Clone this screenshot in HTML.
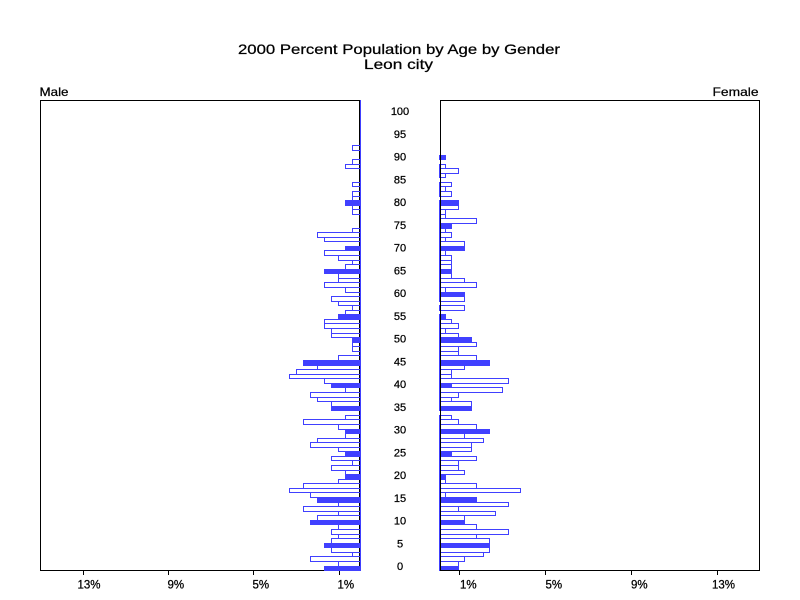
<!DOCTYPE html>
<html><head><meta charset="utf-8"><style>
html,body{margin:0;padding:0;background:#fff;}
svg{display:block;}
text{font-family:"Liberation Sans",Arial,sans-serif;fill:#000;stroke:#000;stroke-width:0.25;}
.o{fill:none;stroke:#4040ff;stroke-width:1;}
.f{fill:#4040ff;stroke:#4040ff;stroke-width:1;}
.k{stroke:#000;stroke-width:1;fill:none;}
.a{font-size:11px;text-anchor:middle;}
.t{font-size:11.5px;}
</style></head><body>
<svg width="800" height="600" viewBox="0 0 800 600" xmlns="http://www.w3.org/2000/svg" shape-rendering="crispEdges">
<rect x="0" y="0" width="800" height="600" fill="#fff"/>
<text x="238" y="54" font-size="14" textLength="322" lengthAdjust="spacingAndGlyphs">2000 Percent Population by Age by Gender</text>
<text x="364" y="69" font-size="14" textLength="69" lengthAdjust="spacingAndGlyphs">Leon city</text>
<text x="39.5" y="96" font-size="12" textLength="29" lengthAdjust="spacingAndGlyphs">Male</text>
<text x="758.5" y="96" font-size="12" text-anchor="end" textLength="46" lengthAdjust="spacingAndGlyphs">Female</text>

<!-- left frame -->
<rect class="k" x="40.5" y="100.5" width="319" height="470"/>
<line class="k" x1="83.5" y1="570" x2="83.5" y2="575"/>
<line class="k" x1="168.5" y1="570" x2="168.5" y2="575"/>
<line class="k" x1="253.5" y1="570" x2="253.5" y2="575"/>
<line class="k" x1="339.5" y1="570" x2="339.5" y2="575"/>

<!-- left bars -->
<g>
<rect class="f" x="324.5" y="566.5" width="36" height="4"/>
<rect class="o" x="338.5" y="561.5" width="22" height="5"/>
<rect class="o" x="310.5" y="556.5" width="50" height="5"/>
<rect class="o" x="352.5" y="552.5" width="8" height="4"/>
<rect class="o" x="331.5" y="547.5" width="29" height="5"/>
<rect class="f" x="324.5" y="543.5" width="36" height="4"/>
<rect class="o" x="331.5" y="538.5" width="29" height="5"/>
<rect class="o" x="338.5" y="534.5" width="22" height="4"/>
<rect class="o" x="331.5" y="529.5" width="29" height="5"/>
<rect class="o" x="338.5" y="524.5" width="22" height="5"/>
<rect class="f" x="310.5" y="520.5" width="50" height="4"/>
<rect class="o" x="317.5" y="515.5" width="43" height="5"/>
<rect class="o" x="338.5" y="511.5" width="22" height="4"/>
<rect class="o" x="303.5" y="506.5" width="57" height="5"/>
<rect class="o" x="338.5" y="502.5" width="22" height="4"/>
<rect class="f" x="317.5" y="497.5" width="43" height="5"/>
<rect class="o" x="310.5" y="492.5" width="50" height="5"/>
<rect class="o" x="289.5" y="488.5" width="71" height="4"/>
<rect class="o" x="303.5" y="483.5" width="57" height="5"/>
<rect class="o" x="338.5" y="479.5" width="22" height="4"/>
<rect class="f" x="345.5" y="474.5" width="15" height="5"/>
<rect class="o" x="345.5" y="470.5" width="15" height="4"/>
<rect class="o" x="331.5" y="465.5" width="29" height="5"/>
<rect class="o" x="352.5" y="460.5" width="8" height="5"/>
<rect class="o" x="331.5" y="456.5" width="29" height="4"/>
<rect class="f" x="345.5" y="451.5" width="15" height="5"/>
<rect class="o" x="338.5" y="447.5" width="22" height="4"/>
<rect class="o" x="310.5" y="442.5" width="50" height="5"/>
<rect class="o" x="317.5" y="438.5" width="43" height="4"/>
<rect class="o" x="345.5" y="433.5" width="15" height="5"/>
<rect class="f" x="345.5" y="429.5" width="15" height="4"/>
<rect class="o" x="338.5" y="424.5" width="22" height="5"/>
<rect class="o" x="303.5" y="419.5" width="57" height="5"/>
<rect class="o" x="345.5" y="415.5" width="15" height="4"/>
<rect class="f" x="331.5" y="406.5" width="29" height="4"/>
<rect class="o" x="331.5" y="401.5" width="29" height="5"/>
<rect class="o" x="317.5" y="397.5" width="43" height="4"/>
<rect class="o" x="310.5" y="392.5" width="50" height="5"/>
<rect class="o" x="345.5" y="387.5" width="15" height="5"/>
<rect class="f" x="331.5" y="383.5" width="29" height="4"/>
<rect class="o" x="324.5" y="378.5" width="36" height="5"/>
<rect class="o" x="289.5" y="374.5" width="71" height="4"/>
<rect class="o" x="296.5" y="369.5" width="64" height="5"/>
<rect class="o" x="317.5" y="365.5" width="43" height="4"/>
<rect class="f" x="303.5" y="360.5" width="57" height="5"/>
<rect class="o" x="338.5" y="355.5" width="22" height="5"/>
<rect class="o" x="352.5" y="346.5" width="8" height="5"/>
<rect class="o" x="352.5" y="342.5" width="8" height="4"/>
<rect class="f" x="352.5" y="337.5" width="8" height="5"/>
<rect class="o" x="331.5" y="333.5" width="29" height="4"/>
<rect class="o" x="331.5" y="328.5" width="29" height="5"/>
<rect class="o" x="324.5" y="323.5" width="36" height="5"/>
<rect class="o" x="324.5" y="319.5" width="36" height="4"/>
<rect class="f" x="338.5" y="314.5" width="22" height="5"/>
<rect class="o" x="345.5" y="310.5" width="15" height="4"/>
<rect class="o" x="352.5" y="305.5" width="8" height="5"/>
<rect class="o" x="338.5" y="301.5" width="22" height="4"/>
<rect class="o" x="331.5" y="296.5" width="29" height="5"/>
<rect class="o" x="345.5" y="287.5" width="15" height="5"/>
<rect class="o" x="324.5" y="282.5" width="36" height="5"/>
<rect class="o" x="338.5" y="278.5" width="22" height="4"/>
<rect class="o" x="338.5" y="273.5" width="22" height="5"/>
<rect class="f" x="324.5" y="269.5" width="36" height="4"/>
<rect class="o" x="345.5" y="264.5" width="15" height="5"/>
<rect class="o" x="352.5" y="260.5" width="8" height="4"/>
<rect class="o" x="338.5" y="255.5" width="22" height="5"/>
<rect class="o" x="324.5" y="250.5" width="36" height="5"/>
<rect class="f" x="345.5" y="246.5" width="15" height="4"/>
<rect class="o" x="324.5" y="237.5" width="36" height="4"/>
<rect class="o" x="317.5" y="232.5" width="43" height="5"/>
<rect class="o" x="352.5" y="228.5" width="8" height="4"/>
<rect class="o" x="352.5" y="209.5" width="8" height="5"/>
<rect class="o" x="352.5" y="205.5" width="8" height="4"/>
<rect class="f" x="345.5" y="200.5" width="15" height="5"/>
<rect class="o" x="352.5" y="196.5" width="8" height="4"/>
<rect class="o" x="352.5" y="191.5" width="8" height="5"/>
<rect class="o" x="352.5" y="182.5" width="8" height="4"/>
<rect class="o" x="345.5" y="164.5" width="15" height="4"/>
<rect class="o" x="352.5" y="159.5" width="8" height="5"/>
<rect class="o" x="352.5" y="145.5" width="8" height="5"/>
</g>
<line x1="360.5" y1="100" x2="360.5" y2="571" stroke="#4040ff" stroke-width="1"/>

<!-- right bars -->
<g>
<rect class="f" x="439.5" y="566.5" width="19" height="4"/>
<rect class="o" x="439.5" y="561.5" width="19" height="5"/>
<rect class="o" x="439.5" y="556.5" width="25" height="5"/>
<rect class="o" x="439.5" y="552.5" width="44" height="4"/>
<rect class="o" x="439.5" y="547.5" width="50" height="5"/>
<rect class="f" x="439.5" y="543.5" width="50" height="4"/>
<rect class="o" x="439.5" y="538.5" width="50" height="5"/>
<rect class="o" x="439.5" y="534.5" width="37" height="4"/>
<rect class="o" x="439.5" y="529.5" width="69" height="5"/>
<rect class="o" x="439.5" y="524.5" width="37" height="5"/>
<rect class="f" x="439.5" y="520.5" width="25" height="4"/>
<rect class="o" x="439.5" y="515.5" width="25" height="5"/>
<rect class="o" x="439.5" y="511.5" width="56" height="4"/>
<rect class="o" x="439.5" y="506.5" width="19" height="5"/>
<rect class="o" x="439.5" y="502.5" width="69" height="4"/>
<rect class="f" x="439.5" y="497.5" width="37" height="5"/>
<rect class="o" x="439.5" y="492.5" width="6" height="5"/>
<rect class="o" x="439.5" y="488.5" width="81" height="4"/>
<rect class="o" x="439.5" y="483.5" width="37" height="5"/>
<rect class="o" x="439.5" y="479.5" width="6" height="4"/>
<rect class="f" x="439.5" y="474.5" width="6" height="5"/>
<rect class="o" x="439.5" y="470.5" width="25" height="4"/>
<rect class="o" x="439.5" y="465.5" width="19" height="5"/>
<rect class="o" x="439.5" y="460.5" width="19" height="5"/>
<rect class="o" x="439.5" y="456.5" width="37" height="4"/>
<rect class="f" x="439.5" y="451.5" width="12" height="5"/>
<rect class="o" x="439.5" y="447.5" width="32" height="4"/>
<rect class="o" x="439.5" y="442.5" width="32" height="5"/>
<rect class="o" x="439.5" y="438.5" width="44" height="4"/>
<rect class="o" x="439.5" y="433.5" width="25" height="5"/>
<rect class="f" x="439.5" y="429.5" width="50" height="4"/>
<rect class="o" x="439.5" y="424.5" width="37" height="5"/>
<rect class="o" x="439.5" y="419.5" width="19" height="5"/>
<rect class="o" x="439.5" y="415.5" width="12" height="4"/>
<rect class="f" x="439.5" y="406.5" width="32" height="4"/>
<rect class="o" x="439.5" y="401.5" width="32" height="5"/>
<rect class="o" x="439.5" y="397.5" width="12" height="4"/>
<rect class="o" x="439.5" y="392.5" width="19" height="5"/>
<rect class="o" x="439.5" y="387.5" width="63" height="5"/>
<rect class="f" x="439.5" y="383.5" width="12" height="4"/>
<rect class="o" x="439.5" y="378.5" width="69" height="5"/>
<rect class="o" x="439.5" y="374.5" width="12" height="4"/>
<rect class="o" x="439.5" y="369.5" width="12" height="5"/>
<rect class="o" x="439.5" y="365.5" width="25" height="4"/>
<rect class="f" x="439.5" y="360.5" width="50" height="5"/>
<rect class="o" x="439.5" y="355.5" width="37" height="5"/>
<rect class="o" x="439.5" y="351.5" width="19" height="4"/>
<rect class="o" x="439.5" y="346.5" width="19" height="5"/>
<rect class="o" x="439.5" y="342.5" width="37" height="4"/>
<rect class="f" x="439.5" y="337.5" width="32" height="5"/>
<rect class="o" x="439.5" y="333.5" width="19" height="4"/>
<rect class="o" x="439.5" y="328.5" width="6" height="5"/>
<rect class="o" x="439.5" y="323.5" width="19" height="5"/>
<rect class="o" x="439.5" y="319.5" width="12" height="4"/>
<rect class="f" x="439.5" y="314.5" width="6" height="5"/>
<rect class="o" x="439.5" y="305.5" width="25" height="5"/>
<rect class="o" x="439.5" y="296.5" width="25" height="5"/>
<rect class="f" x="439.5" y="292.5" width="25" height="4"/>
<rect class="o" x="439.5" y="287.5" width="6" height="5"/>
<rect class="o" x="439.5" y="282.5" width="37" height="5"/>
<rect class="o" x="439.5" y="278.5" width="25" height="4"/>
<rect class="o" x="439.5" y="273.5" width="12" height="5"/>
<rect class="f" x="439.5" y="269.5" width="12" height="4"/>
<rect class="o" x="439.5" y="264.5" width="12" height="5"/>
<rect class="o" x="439.5" y="260.5" width="12" height="4"/>
<rect class="o" x="439.5" y="255.5" width="12" height="5"/>
<rect class="o" x="439.5" y="250.5" width="6" height="5"/>
<rect class="f" x="439.5" y="246.5" width="25" height="4"/>
<rect class="o" x="439.5" y="241.5" width="25" height="5"/>
<rect class="o" x="439.5" y="237.5" width="6" height="4"/>
<rect class="o" x="439.5" y="232.5" width="12" height="5"/>
<rect class="o" x="439.5" y="228.5" width="6" height="4"/>
<rect class="f" x="439.5" y="223.5" width="12" height="5"/>
<rect class="o" x="439.5" y="218.5" width="37" height="5"/>
<rect class="o" x="439.5" y="214.5" width="6" height="4"/>
<rect class="o" x="439.5" y="209.5" width="6" height="5"/>
<rect class="o" x="439.5" y="205.5" width="19" height="4"/>
<rect class="f" x="439.5" y="200.5" width="19" height="5"/>
<rect class="o" x="439.5" y="191.5" width="12" height="5"/>
<rect class="o" x="439.5" y="186.5" width="6" height="5"/>
<rect class="o" x="439.5" y="182.5" width="12" height="4"/>
<rect class="o" x="439.5" y="173.5" width="6" height="4"/>
<rect class="o" x="439.5" y="168.5" width="19" height="5"/>
<rect class="o" x="439.5" y="164.5" width="6" height="4"/>
<rect class="f" x="439.5" y="155.5" width="6" height="4"/>
</g>

<!-- right frame -->
<rect class="k" x="440.5" y="100.5" width="319" height="470"/>
<line class="k" x1="459.5" y1="570" x2="459.5" y2="575"/>
<line class="k" x1="545.5" y1="570" x2="545.5" y2="575"/>
<line class="k" x1="631.5" y1="570" x2="631.5" y2="575"/>
<line class="k" x1="717.5" y1="570" x2="717.5" y2="575"/>

<!-- tick labels -->
<text class="t" x="77.5" y="588.5">13%</text>
<text class="t" x="167.5" y="588.5">9%</text>
<text class="t" x="252.5" y="588.5">5%</text>
<text class="t" x="337.5" y="588.5">1%</text>
<text class="t" x="460" y="588.5">1%</text>
<text class="t" x="545.5" y="588.5">5%</text>
<text class="t" x="631" y="588.5">9%</text>
<text class="t" x="712" y="588.5">13%</text>

<!-- age labels -->
<text class="a" x="400" y="570">0</text>
<text class="a" x="400" y="547.3">5</text>
<text class="a" x="400" y="524.5">10</text>
<text class="a" x="400" y="501.8">15</text>
<text class="a" x="400" y="479">20</text>
<text class="a" x="400" y="456.3">25</text>
<text class="a" x="400" y="433.5">30</text>
<text class="a" x="400" y="410.8">35</text>
<text class="a" x="400" y="388">40</text>
<text class="a" x="400" y="365.3">45</text>
<text class="a" x="400" y="342.5">50</text>
<text class="a" x="400" y="319.8">55</text>
<text class="a" x="400" y="297">60</text>
<text class="a" x="400" y="274.3">65</text>
<text class="a" x="400" y="251.5">70</text>
<text class="a" x="400" y="228.8">75</text>
<text class="a" x="400" y="206">80</text>
<text class="a" x="400" y="183.3">85</text>
<text class="a" x="400" y="160.5">90</text>
<text class="a" x="400" y="137.8">95</text>
<text class="a" x="400" y="115">100</text>
</svg>
</body></html>
